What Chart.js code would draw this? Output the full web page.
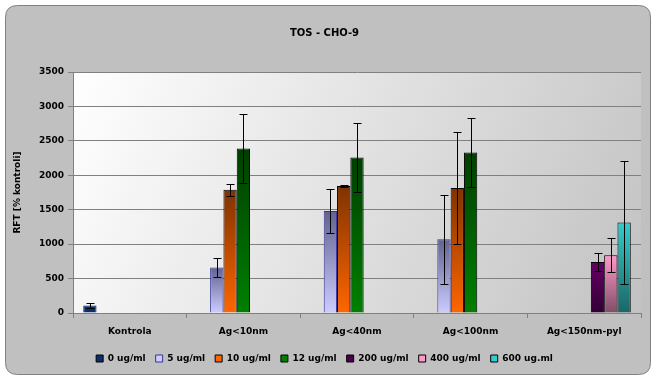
<!DOCTYPE html>
<html>
<head>
<meta charset="utf-8">
<script src="https://cdn.jsdelivr.net/npm/chart.js@4.4.1/dist/chart.umd.min.js"></script>
<style>
  html, body { margin: 0; padding: 0; background: #fff; }
  #wrap { width: 657px; height: 381px; }
</style>
</head>
<body>
<div id="wrap"><canvas id="myChart" width="657" height="381"></canvas></div>
<script>
// categories + series (RFT % kontroli)
const categories = ['Kontrola', 'Ag<10nm', 'Ag<40nm', 'Ag<100nm', 'Ag<150nm-pyl'];
const seriesNames = ['0 ug/ml', '5 ug/ml', '10 ug/ml', '12 ug/ml', '200 ug/ml', '400 ug/ml', '600 ug.ml'];

const s0   = [110, null, null, null, null];
const s5   = [null, 660, 1480, 1070, null];
const s10  = [null, 1790, 1845, 1815, null];
const s12  = [null, 2390, 2260, 2330, null];
const s200 = [null, null, null, null, 740];
const s400 = [null, null, null, null, 840];
const s600 = [null, null, null, null, 1315];

// error bar half-widths
const e0   = [40, null, null, null, null];
const e5   = [null, 140, 320, 650, null];
const e10  = [null, 90, 12, 820, null];
const e12  = [null, 495, 500, 500, null];
const e200 = [null, null, null, null, 125];
const e400 = [null, null, null, null, 250];
const e600 = [null, null, null, null, 890];

const yTicks = [0, 500, 1000, 1500, 2000, 2500, 3000, 3500];

// colours: [top, bottom, border, legend swatch]
const styles = [
  ['#0b2e6e', '#0b2e6e', '#0b2e6e', '#0b2e6e'],
  ['#626290', '#ccccff', '#333399', '#ccccff'],
  ['#7f3300', '#ff6600', '#000000', '#ff6600'],
  ['#003f00', '#008000', '#000000', '#008000'],
  ['#660066', '#330033', '#000000', '#4d004d'],
  ['#ff99cc', '#804d66', '#000000', '#ff99cc'],
  ['#33cccc', '#1a6666', '#000000', '#33cccc']
];

const values = [s0, s5, s10, s12, s200, s400, s600];
const errors = [e0, e5, e10, e12, e200, e400, e600];

const fnt = "'DejaVu Sans', Verdana, sans-serif";

function barFill(i) {
  return (ctx) => {
    const chart = ctx.chart;
    const y = chart.scales.y;
    const v = ctx.raw;
    if (!chart.chartArea || v == null || !y) return styles[i][1];
    const top = y.getPixelForValue(v);
    const bot = y.getPixelForValue(0);
    const g = chart.ctx.createLinearGradient(0, top, 0, bot);
    g.addColorStop(0, styles[i][0]);
    g.addColorStop(1, styles[i][1]);
    return g;
  };
}

// frame + plot background
const backdrop = {
  id: 'backdrop',
  beforeDraw(chart) {
    const c = chart.ctx;
    const a = chart.chartArea;
    c.save();
    const x0 = 5.5, y0 = 5.5, w = 645, h = 369, r = 12;
    c.beginPath();
    c.moveTo(x0 + r, y0);
    c.lineTo(x0 + w - r, y0);
    c.quadraticCurveTo(x0 + w, y0, x0 + w, y0 + r);
    c.lineTo(x0 + w, y0 + h - r);
    c.quadraticCurveTo(x0 + w, y0 + h, x0 + w - r, y0 + h);
    c.lineTo(x0 + r, y0 + h);
    c.quadraticCurveTo(x0, y0 + h, x0, y0 + h - r);
    c.lineTo(x0, y0 + r);
    c.quadraticCurveTo(x0, y0, x0 + r, y0);
    c.closePath();
    c.fillStyle = '#c0c0c0';
    c.fill();
    c.strokeStyle = '#808080';
    c.lineWidth = 1;
    c.stroke();
    const g = c.createLinearGradient(a.left, a.top, a.right, a.bottom);
    g.addColorStop(0, '#ffffff');
    g.addColorStop(1, '#c2c2c2');
    c.fillStyle = g;
    c.fillRect(a.left, a.top, a.right - a.left, a.bottom - a.top);
    c.restore();
  }
};

// error bars
const errBars = {
  id: 'errBars',
  afterDatasetsDraw(chart) {
    const c = chart.ctx;
    const y = chart.scales.y;
    c.save();
    c.strokeStyle = '#000';
    c.lineWidth = 1;
    chart.data.datasets.forEach((ds, i) => {
      const meta = chart.getDatasetMeta(i);
      meta.data.forEach((bar, j) => {
        const v = ds.data[j], e = errors[i][j];
        if (v == null || e == null) return;
        const x = Math.round(bar.x) + 0.5;
        const yt = Math.round(y.getPixelForValue(v + e)) + 0.5;
        const yb = Math.round(y.getPixelForValue(v - e)) + 0.5;
        c.beginPath();
        c.moveTo(x, yt); c.lineTo(x, yb);
        c.moveTo(x - 4, yt); c.lineTo(x + 4, yt);
        c.moveTo(x - 4, yb); c.lineTo(x + 4, yb);
        c.stroke();
      });
    });
    c.restore();
  }
};

new Chart(document.getElementById('myChart'), {
  type: 'bar',
  data: {
    labels: categories,
    datasets: values.map((d, i) => ({
      label: seriesNames[i],
      data: d,
      backgroundColor: barFill(i),
      borderColor: styles[i][2],
      borderWidth: 1,
      categoryPercentage: 0.82,
      barPercentage: 1,
      skipNull: false
    }))
  },
  options: {
    responsive: false,
    animation: false,
    layout: { padding: { left: 8, right: 16, top: 0, bottom: 8 } },
    plugins: {
      title: {
        display: true,
        text: 'TOS - CHO-9',
        color: '#000',
        font: { family: fnt, size: 10, weight: 'bold' },
        padding: { top: 27, bottom: 33 }
      },
      legend: {
        position: 'bottom',
        labels: {
          boxWidth: 7,
          boxHeight: 7,
          padding: 10,
          color: '#000',
          font: { family: fnt, size: 9, weight: 'bold' },
          generateLabels: () => seriesNames.map((n, i) => ({
            text: n,
            fillStyle: styles[i][3],
            strokeStyle: i === 1 ? '#333399' : '#000',
            lineWidth: 1,
            datasetIndex: i
          }))
        }
      },
      tooltip: { enabled: false }
    },
    scales: {
      x: {
        grid: { display: true, drawOnChartArea: false, color: '#808080', tickLength: 5, offset: true },
        border: { color: '#808080' },
        ticks: { color: '#000', font: { family: fnt, size: 9, weight: 'bold' }, padding: 8, maxRotation: 0 },
        afterFit: (s) => { s.height = 31; }
      },
      y: {
        min: 0,
        max: 3500,
        afterBuildTicks: (s) => { s.ticks = yTicks.map(v => ({ value: v })); },
        grid: { color: '#808080', tickLength: 5 },
        border: { color: '#808080' },
        ticks: { color: '#000', font: { family: fnt, size: 9, weight: 'bold' }, padding: 4, callback: (v) => String(v) },
        title: {
          display: true,
          text: 'RFT [% kontroli]',
          color: '#000',
          font: { family: fnt, size: 9, weight: 'bold' },
          padding: { top: 4, bottom: 6 }
        },
        afterFit: (s) => { s.width = 65; }
      }
    }
  },
  plugins: [backdrop, errBars]
});
</script>
</body>
</html>
